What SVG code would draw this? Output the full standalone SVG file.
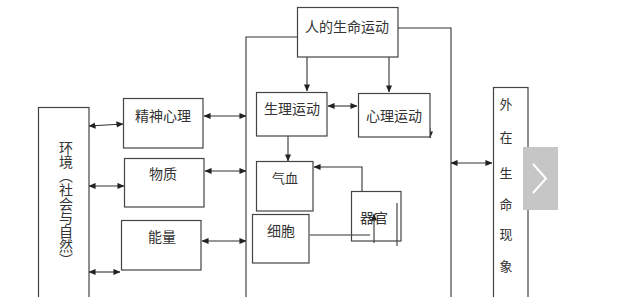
<svg xmlns="http://www.w3.org/2000/svg" width="628" height="297" viewBox="0 0 628 297">
<style>
.box{fill:#fff;stroke:#444;stroke-width:1.2}
.ln{fill:none;stroke:#333;stroke-width:1.1}
.t{font-family:"Noto Sans CJK SC","Noto Sans CJK JP",sans-serif;font-size:14px;fill:#333;text-anchor:middle}
.s{font-size:13px}
</style>
<defs>
<marker id="ah" viewBox="0 0 8 8" refX="7.5" refY="4" markerWidth="7" markerHeight="7" markerUnits="userSpaceOnUse" orient="auto-start-reverse">
<path d="M0,0.5 L8,4 L0,7.5 Z" fill="#222"/>
</marker>
</defs>
<rect width="628" height="297" fill="#fff"/>

<g id="connectors">
<!-- frame -->
<path class="ln" d="M246,297 V37 H297"/>
<path class="ln" d="M398,28 H451 V297"/>
<!-- env to left boxes -->
<line class="ln" x1="89" y1="126" x2="123" y2="124" marker-start="url(#ah)" marker-end="url(#ah)"/>
<line class="ln" x1="89" y1="186" x2="124" y2="186" marker-start="url(#ah)" marker-end="url(#ah)"/>
<line class="ln" x1="89" y1="272" x2="120" y2="272" marker-start="url(#ah)" marker-end="url(#ah)"/>
<!-- left boxes to frame -->
<line class="ln" x1="204" y1="116" x2="246" y2="116" marker-start="url(#ah)" marker-end="url(#ah)"/>
<line class="ln" x1="205" y1="171" x2="246" y2="171" marker-start="url(#ah)" marker-end="url(#ah)"/>
<line class="ln" x1="202" y1="241" x2="246" y2="241" marker-start="url(#ah)" marker-end="url(#ah)"/>
<!-- frame to external -->
<line class="ln" x1="451" y1="163" x2="492" y2="163" marker-start="url(#ah)" marker-end="url(#ah)"/>
<!-- top box down -->
<line class="ln" x1="307" y1="57" x2="307" y2="91" marker-end="url(#ah)"/>
<line class="ln" x1="389" y1="57" x2="389" y2="92" marker-end="url(#ah)"/>
<!-- between motions -->
<line class="ln" x1="328" y1="106" x2="357" y2="106" marker-start="url(#ah)" marker-end="url(#ah)"/>
<line class="ln" x1="430" y1="128" x2="430" y2="138" marker-end="url(#ah)"/>
<!-- 生理 to 气血 -->
<line class="ln" x1="288" y1="136" x2="288" y2="161" marker-end="url(#ah)"/>
<!-- 器官 to 气血 -->
<path class="ln" d="M362,192 V167 H314" marker-end="url(#ah)"/>
<!-- 细胞 line -->
<line class="ln" x1="310" y1="235" x2="370" y2="235"/>
<line class="ln" x1="374" y1="243" x2="374" y2="214" marker-end="url(#ah)"/>
<line class="ln" x1="397" y1="203" x2="397" y2="246"/>
</g>

<g id="env">
<rect class="box" x="38.5" y="107.5" width="50.5" height="200"/>
<text class="t" x="66" y="141" style="writing-mode:vertical-rl;text-anchor:start">环境（社会与自然）</text>
</g>
<g id="jingshen">
<rect class="box" x="123.5" y="98.5" width="79.5" height="49.5"/>
<text class="t" x="163" y="121">精神心理</text>
</g>
<g id="wuzhi">
<rect class="box" x="124.5" y="158.5" width="79.5" height="48.5"/>
<text class="t" x="163" y="179">物质</text>
</g>
<g id="nengliang">
<rect class="box" x="121.5" y="220.5" width="79.5" height="49.5"/>
<text class="t" x="162" y="242">能量</text>
</g>
<g id="top">
<rect class="box" x="297.5" y="7.5" width="100.5" height="49.5"/>
<text class="t" x="347" y="32">人的生命运动</text>
</g>
<g id="shengli">
<rect class="box" x="256.5" y="92.5" width="70.5" height="43.5"/>
<text class="t" x="292" y="114">生理运动</text>
</g>
<g id="xinli">
<rect class="box" x="358.5" y="93.5" width="71.5" height="43.5"/>
<text class="t" x="394" y="121">心理运动</text>
</g>
<g id="qixue">
<rect class="box" x="256.5" y="161.5" width="56.5" height="49.5"/>
<text class="t s" x="285" y="183">气血</text>
</g>
<g id="xibao">
<rect class="box" x="252.5" y="214.5" width="56.5" height="48.5"/>
<text class="t" x="281" y="236">细胞</text>
</g>
<g id="qiguan">
<rect class="box" x="351.5" y="191.5" width="49.5" height="49.5" fill="none" style="fill:none"/>
<text class="t" x="374" y="223">器官</text>
</g>
<g id="waizai">
<rect class="box" x="493.5" y="87.5" width="34.5" height="220"/>
<text class="t s" x="506" y="109">外</text>
<text class="t s" x="506" y="142">在</text>
<text class="t s" x="506" y="178">生</text>
<text class="t s" x="506" y="209">命</text>
<text class="t s" x="506" y="239">现</text>
<text class="t s" x="506" y="271">象</text>
</g>
<g id="nav-button">
<rect x="523" y="147" width="35" height="63" fill="#c6c6c6"/>
<path d="M533,164 L546,178.5 L533,193" fill="none" stroke="#fff" stroke-width="2"/>
</g>
</svg>
